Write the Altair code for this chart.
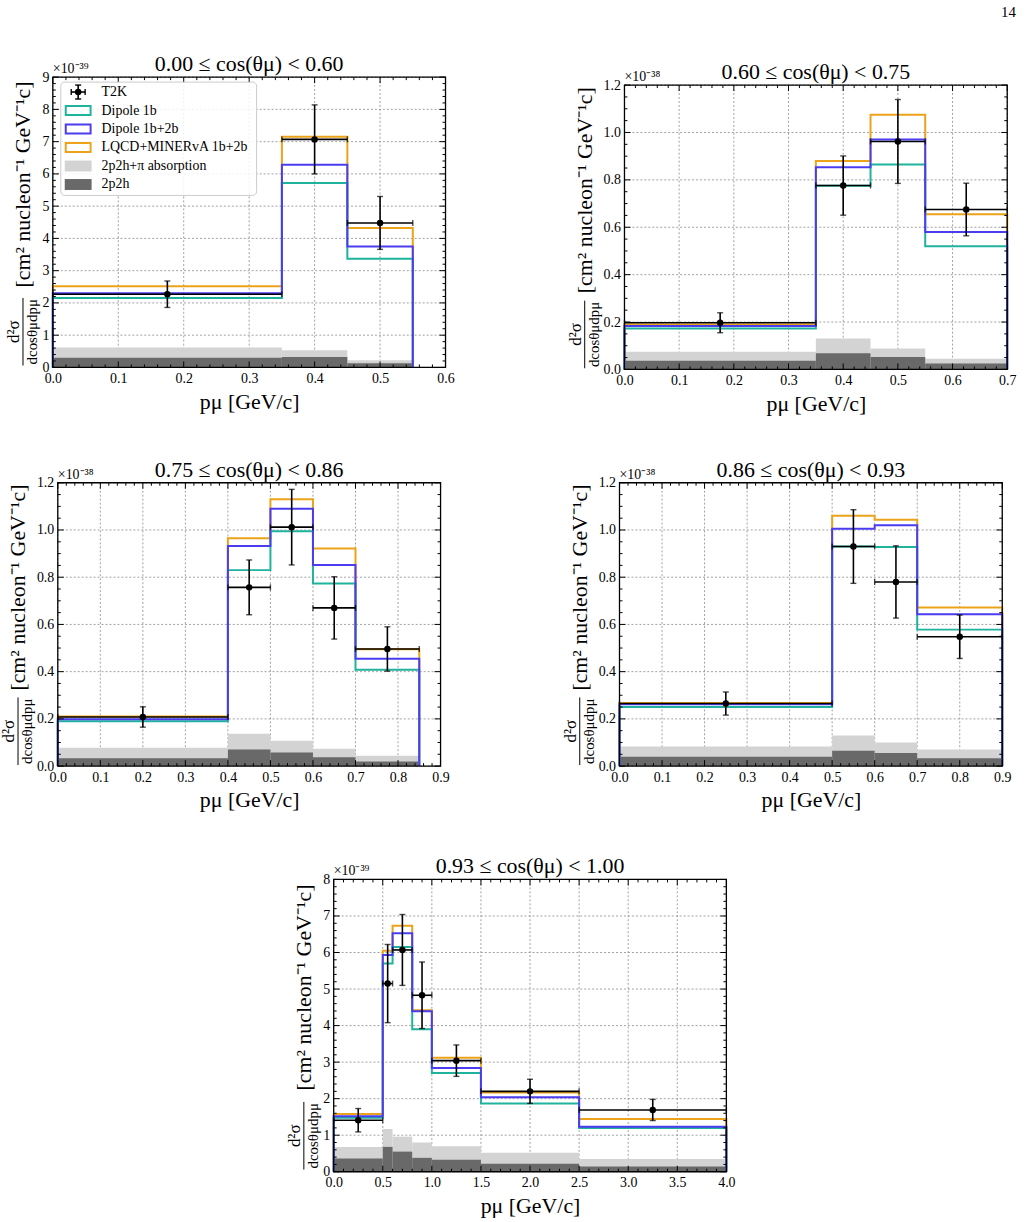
import altair as alt
import pandas as pd

SERIF = "Liberation Serif"
C_TEAL = "#1fb39e"
C_BLUE = "#4b3cf0"
C_ORANGE = "#eca31a"
C_LIGHT = "#d3d3d3"
C_DARK = "#696969"
C_GRID = "#8a8a8a"

# ---------------- data (values in units of the axis multiplier) ----------------
# Panel 1: 0.00 <= cos < 0.60   (x 1e-39)
edges_1 = [0.0, 0.35, 0.45, 0.55]
t2k_1 = [2.27, 7.07, 4.48]
err_1 = [0.41, 1.07, 0.82]
dip1b_1 = [2.15, 5.72, 3.37]
dip12_1 = [2.30, 6.28, 3.75]
lqcd_1 = [2.52, 7.15, 4.32]
abs_1 = [0.62, 0.53, 0.22]
np_1 = [0.30, 0.32, 0.13]

# Panel 2: 0.60 <= cos < 0.75   (x 1e-38)
edges_2 = [0.0, 0.35, 0.45, 0.55, 0.70]
t2k_2 = [0.197, 0.776, 0.962, 0.675]
err_2 = [0.042, 0.125, 0.177, 0.111]
dip1b_2 = [0.173, 0.775, 0.865, 0.520]
dip12_2 = [0.183, 0.853, 0.970, 0.580]
lqcd_2 = [0.190, 0.880, 1.075, 0.655]
abs_2 = [0.075, 0.130, 0.088, 0.045]
np_2 = [0.037, 0.068, 0.052, 0.025]

# Panel 3: 0.75 <= cos < 0.86   (x 1e-38)
edges_3 = [0.0, 0.40, 0.50, 0.60, 0.70, 0.85]
t2k_3 = [0.208, 0.757, 1.012, 0.670, 0.496]
err_3 = [0.043, 0.116, 0.160, 0.132, 0.094]
dip1b_3 = [0.190, 0.830, 0.995, 0.773, 0.408]
dip12_3 = [0.198, 0.932, 1.090, 0.852, 0.455]
lqcd_3 = [0.210, 0.965, 1.130, 0.922, 0.495]
abs_3 = [0.078, 0.137, 0.107, 0.074, 0.044]
np_3 = [0.033, 0.070, 0.058, 0.038, 0.020]

# Panel 4: 0.86 <= cos < 0.93   (x 1e-38)
edges_4 = [0.0, 0.50, 0.60, 0.70, 0.90]
t2k_4 = [0.265, 0.930, 0.780, 0.548]
err_4 = [0.049, 0.156, 0.153, 0.092]
dip1b_4 = [0.250, 0.930, 0.928, 0.578]
dip12_4 = [0.262, 1.005, 1.020, 0.643]
lqcd_4 = [0.267, 1.060, 1.043, 0.672]
abs_4 = [0.083, 0.130, 0.100, 0.070]
np_4 = [0.040, 0.065, 0.055, 0.033]

# Panel 5: 0.93 <= cos < 1.00   (x 1e-39)
edges_5 = [0.0, 0.5, 0.6, 0.8, 1.0, 1.5, 2.5, 4.0]
t2k_5 = [1.41, 5.15, 6.07, 4.83, 3.04, 2.20, 1.69]
err_5 = [0.32, 1.07, 0.97, 0.91, 0.43, 0.33, 0.29]
dip1b_5 = [1.48, 5.70, 6.15, 3.90, 2.70, 1.87, 1.20]
dip12_5 = [1.52, 5.93, 6.53, 4.39, 2.84, 2.04, 1.23]
lqcd_5 = [1.58, 6.05, 6.73, 4.42, 3.12, 2.17, 1.44]
abs_5 = [0.68, 1.17, 0.96, 0.80, 0.70, 0.52, 0.35]
np_5 = [0.36, 0.68, 0.55, 0.38, 0.33, 0.22, 0.14]

titles = ["0.00 ≤ cos(θμ) < 0.60", "0.60 ≤ cos(θμ) < 0.75", "0.75 ≤ cos(θμ) < 0.86",
          "0.86 ≤ cos(θμ) < 0.93", "0.93 ≤ cos(θμ) < 1.00"]
x_ticks_1 = [0.0, 0.1, 0.2, 0.3, 0.4, 0.5, 0.6]
x_ticks_2 = [0.0, 0.1, 0.2, 0.3, 0.4, 0.5, 0.6, 0.7]
x_ticks_3 = [0.0, 0.1, 0.2, 0.3, 0.4, 0.5, 0.6, 0.7, 0.8, 0.9]
x_ticks_5 = [0.0, 0.5, 1.0, 1.5, 2.0, 2.5, 3.0, 3.5, 4.0]
y_ticks_1 = [0, 1, 2, 3, 4, 5, 6, 7, 8, 9]
y_ticks_2 = [0.0, 0.2, 0.4, 0.6, 0.8, 1.0, 1.2]
y_ticks_5 = [0, 1, 2, 3, 4, 5, 6, 7, 8]

legend_labels = ["T2K", "Dipole 1b", "Dipole 1b+2b", "LQCD+MINERvA 1b+2b",
                 "2p2h+π absorption", "2p2h"]

TITLE_FS = 22


def minor_values(majors, ndiv):
    out = []
    for a, b in zip(majors[:-1], majors[1:]):
        for k in range(1, ndiv):
            out.append(round(a + (b - a) * k / ndiv, 6))
    return out


one = pd.DataFrame({"a": [0]})


def panel(title, edges, t2k, err, d1b, d12, lq, ab, npp, xt, yt, xdiv, ydiv,
          xfmt, yfmt, mult, w, h, bx, legend=False, yoff=0):
    H = h + yoff
    lo, hi = edges[:-1], edges[1:]
    cen = [(a + b) / 2 for a, b in zip(lo, hi)]
    xdom = [xt[0], xt[-1]]
    ydom = [yt[0], yt[-1]]

    def X(f):
        return alt.X(f, type="quantitative",
                     scale=alt.Scale(domain=xdom, nice=False, zero=False),
                     axis=alt.Axis(values=xt, format=xfmt, title="pμ [GeV/c]", grid=False,
                                   ticks=False, domain=False, labelFont=SERIF, labelFontSize=14,
                                   labelColor="black", labelPadding=4, labelFlush=False,
                                   titleFont=SERIF, titleFontSize=22, titleFontWeight="normal",
                                   titleColor="black", titlePadding=6))

    def Y(f):
        return alt.Y(f, type="quantitative",
                     scale=alt.Scale(domain=ydom, nice=False, zero=False, range=[H, yoff]),
                     axis=alt.Axis(values=yt, format=yfmt, title=None, grid=False,
                                   ticks=False, domain=False, labelFont=SERIF, labelFontSize=14,
                                   labelColor="black", labelPadding=4, labelFlush=False))

    xmaj = pd.DataFrame({"v": xt})
    xmin = pd.DataFrame({"v": minor_values(xt, xdiv)})
    ymaj = pd.DataFrame({"v": yt})
    ymin = pd.DataFrame({"v": minor_values(yt, ydiv)})

    # grid lines
    layers = [
        alt.Chart(xmaj).mark_rule(color=C_GRID, strokeWidth=0.8, strokeDash=[2, 2])
        .encode(x=X("v"), y=alt.value(yoff), y2=alt.value(H)),
        alt.Chart(ymaj).mark_rule(color=C_GRID, strokeWidth=0.8, strokeDash=[2, 2])
        .encode(y=Y("v"), x=alt.value(0), x2=alt.value(w)),
    ]

    bars = pd.DataFrame({"lo": lo, "hi": hi, "zero": [0.0] * len(lo), "ab": ab, "np": npp})
    layers += [
        alt.Chart(bars).mark_rect(color=C_LIGHT).encode(x=X("lo"), x2="hi", y=Y("zero"), y2="ab"),
        alt.Chart(bars).mark_rect(color=C_DARK).encode(x=X("lo"), x2="hi", y=Y("zero"), y2="np"),
    ]

    def step(vals):
        xs, ys = [edges[0]], [0.0]
        for i, v in enumerate(vals):
            xs += [edges[i], edges[i + 1]]
            ys += [v, v]
        xs.append(edges[-1])
        ys.append(0.0)
        return pd.DataFrame({"x": xs, "y": ys, "k": list(range(len(xs)))})

    for vals, col in [(lq, C_ORANGE), (d1b, C_TEAL), (d12, C_BLUE)]:
        layers.append(alt.Chart(step(vals)).mark_line(color=col, strokeWidth=2, strokeJoin="miter")
                      .encode(x=X("x"), y=Y("y"), order="k:Q"))

    pts = pd.DataFrame({"c": cen, "lo": lo, "hi": hi, "y": t2k,
                        "ylo": [v - e for v, e in zip(t2k, err)],
                        "yhi": [v + e for v, e in zip(t2k, err)]})
    base = alt.Chart(pts)
    layers += [
        base.mark_rule(color="black", strokeWidth=1.6).encode(x=X("lo"), x2="hi", y=Y("y")),
        base.mark_rule(color="black", strokeWidth=1.6).encode(x=X("c"), y=Y("ylo"), y2="yhi"),
        base.mark_tick(color="black", orient="horizontal", size=6, thickness=1.4).encode(x=X("c"), y=Y("ylo")),
        base.mark_tick(color="black", orient="horizontal", size=6, thickness=1.4).encode(x=X("c"), y=Y("yhi")),
        base.mark_tick(color="black", orient="vertical", size=6, thickness=1.4).encode(x=X("lo"), y=Y("y")),
        base.mark_tick(color="black", orient="vertical", size=6, thickness=1.4).encode(x=X("hi"), y=Y("y")),
        base.mark_circle(color="black", size=42, opacity=1).encode(x=X("c"), y=Y("y")),
    ]

    # inward ticks on all four sides
    for df, L in [(xmaj, 6), (xmin, 3)]:
        layers.append(alt.Chart(df).mark_rule(color="black", strokeWidth=1)
                      .encode(x=X("v"), y=alt.value(H), y2=alt.value(H - L)))
        layers.append(alt.Chart(df).mark_rule(color="black", strokeWidth=1)
                      .encode(x=X("v"), y=alt.value(yoff), y2=alt.value(yoff + L)))
    for df, L in [(ymaj, 6), (ymin, 3)]:
        layers.append(alt.Chart(df).mark_rule(color="black", strokeWidth=1)
                      .encode(y=Y("v"), x=alt.value(0), x2=alt.value(L)))
        layers.append(alt.Chart(df).mark_rule(color="black", strokeWidth=1)
                      .encode(y=Y("v"), x=alt.value(w), x2=alt.value(w - L)))

    o = alt.Chart(one)
    cy = yoff + 0.877 * h
    layers += [
        # frame
        o.mark_rect(fillOpacity=0, stroke="black", strokeWidth=1.3)
         .encode(x=alt.value(0), x2=alt.value(w), y=alt.value(yoff), y2=alt.value(H)),
        # panel title and multiplier
        o.mark_text(font=SERIF, fontSize=TITLE_FS, align="center", baseline="alphabetic", color="black")
         .encode(x=alt.value(w / 2), y=alt.value(yoff - 6), text=alt.value(title)),
        o.mark_text(font=SERIF, fontSize=14, align="left", baseline="alphabetic", color="black")
         .encode(x=alt.value(0), y=alt.value(yoff - 4), text=alt.value(mult)),
        # y-axis title pieces
        o.mark_text(font=SERIF, fontSize=22, align="center", baseline="middle", angle=270, color="black")
         .encode(x=alt.value(bx), y=alt.value(yoff + 0.37 * h), text=alt.value("[cm² nucleon⁻¹ GeV⁻¹c]")),
        o.mark_text(font=SERIF, fontSize=17, align="center", baseline="middle", angle=270, color="black")
         .encode(x=alt.value(bx - 9), y=alt.value(cy), text=alt.value("d²σ")),
        o.mark_text(font=SERIF, fontSize=15, align="center", baseline="middle", angle=270, color="black")
         .encode(x=alt.value(bx + 9), y=alt.value(cy), text=alt.value("dcosθμdpμ")),
        o.mark_rule(color="black", strokeWidth=1)
         .encode(x=alt.value(bx), y=alt.value(cy - 34), y2=alt.value(cy + 34)),
    ]

    if legend:
        top, left = yoff + 5, 8
        rows = [top + 10 + 18.6 * i for i in range(6)]
        layers.append(o.mark_rect(fill="white", fillOpacity=0.85, stroke="#cccccc", strokeWidth=1,
                                  cornerRadius=4)
                      .encode(x=alt.value(left), x2=alt.value(left + 197), y=alt.value(top),
                              y2=alt.value(top + 114)))
        sx0, sx1 = left + 4, left + 31
        cxs = (sx0 + sx1) / 2
        r0 = rows[0]
        layers += [
            o.mark_rule(color="black", strokeWidth=1.6).encode(x=alt.value(cxs - 7), x2=alt.value(cxs + 7), y=alt.value(r0)),
            o.mark_rule(color="black", strokeWidth=1.6).encode(x=alt.value(cxs), y=alt.value(r0 - 7), y2=alt.value(r0 + 7)),
            o.mark_rule(color="black", strokeWidth=1.4).encode(x=alt.value(cxs - 3), x2=alt.value(cxs + 3), y=alt.value(r0 - 7)),
            o.mark_rule(color="black", strokeWidth=1.4).encode(x=alt.value(cxs - 3), x2=alt.value(cxs + 3), y=alt.value(r0 + 7)),
            o.mark_rule(color="black", strokeWidth=1.4).encode(x=alt.value(cxs - 7), y=alt.value(r0 - 3), y2=alt.value(r0 + 3)),
            o.mark_rule(color="black", strokeWidth=1.4).encode(x=alt.value(cxs + 7), y=alt.value(r0 - 3), y2=alt.value(r0 + 3)),
            o.mark_circle(color="black", size=42, opacity=1).encode(x=alt.value(cxs), y=alt.value(r0)),
        ]
        for r, col in zip(rows[1:4], [C_TEAL, C_BLUE, C_ORANGE]):
            layers.append(o.mark_rect(fill="white", stroke=col, strokeWidth=2)
                          .encode(x=alt.value(sx0 + 1), x2=alt.value(sx1 - 1), y=alt.value(r - 4.5),
                                  y2=alt.value(r + 4.5)))
        for r, col in zip(rows[4:], [C_LIGHT, C_DARK]):
            layers.append(o.mark_rect(fill=col)
                          .encode(x=alt.value(sx0), x2=alt.value(sx1), y=alt.value(r - 5.5),
                                  y2=alt.value(r + 5.5)))
        for r, lab in zip(rows, legend_labels):
            layers.append(o.mark_text(font=SERIF, fontSize=14, align="left", baseline="middle", color="black")
                          .encode(x=alt.value(left + 41), y=alt.value(r), text=alt.value(lab)))

    return alt.layer(*layers).properties(width=w, height=H)


p1 = panel(titles[0], edges_1, t2k_1, err_1, dip1b_1, dip12_1, lqcd_1, abs_1, np_1,
           x_ticks_1, y_ticks_1, 5, 5, ".1f", "d", "×10⁻³⁹", 395, 292, -30, legend=True)
p2 = panel(titles[1], edges_2, t2k_2, err_2, dip1b_2, dip12_2, lqcd_2, abs_2, np_2,
           x_ticks_2, y_ticks_2, 5, 4, ".1f", ".1f", "×10⁻³⁸", 385, 286, -40, yoff=8)
p3 = panel(titles[2], edges_3, t2k_3, err_3, dip1b_3, dip12_3, lqcd_3, abs_3, np_3,
           x_ticks_3, y_ticks_2, 5, 4, ".1f", ".1f", "×10⁻³⁸", 385, 285, -40)
p4 = panel(titles[3], edges_4, t2k_4, err_4, dip1b_4, dip12_4, lqcd_4, abs_4, np_4,
           x_ticks_3, y_ticks_2, 5, 4, ".1f", ".1f", "×10⁻³⁸", 385, 285, -40)
p5 = panel(titles[4], edges_5, t2k_5, err_5, dip1b_5, dip12_5, lqcd_5, abs_5, np_5,
           x_ticks_5, y_ticks_5, 5, 5, ".1f", "d", "×10⁻³⁹", 395, 294, -30)

row1 = alt.hconcat(p1, p2, spacing=113)
row2 = alt.hconcat(p3, p4, spacing=113)
chart = (alt.vconcat(row1, row2, p5, spacing=45, center=True)
         .properties(title=alt.TitleParams("14", anchor="end", font=SERIF, fontSize=15,
                                           fontWeight="normal", color="black", offset=33),
                     padding={"left": 0, "top": 2, "right": 10, "bottom": 5})
         .configure_view(stroke=None))

chart.save("out.html", embed_options={"renderer": "svg", "actions": False})
